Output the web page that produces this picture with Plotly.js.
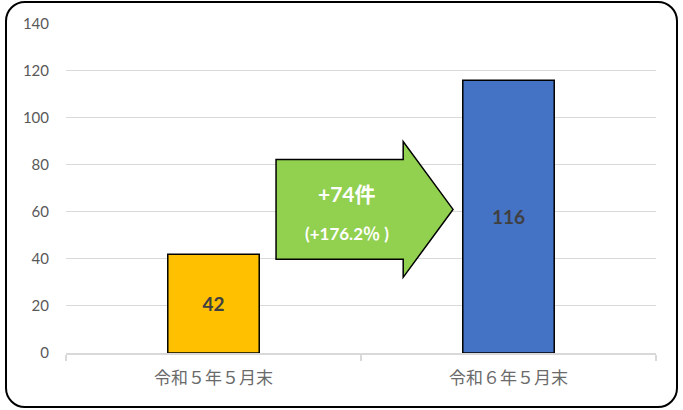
<!DOCTYPE html>
<html><head><meta charset="utf-8">
<script src="https://cdn.plot.ly/plotly-3.0.1.min.js"></script>
<style>
html,body{margin:0;padding:0;background:#fff;}
#wrap{position:absolute;left:0;top:0;width:683px;height:410px;}
#frame{position:absolute;left:5px;top:1px;width:669px;height:403px;border:2.5px solid #000;border-radius:20px;pointer-events:none;}
#chart{position:absolute;left:0;top:0;width:683px;height:410px;}
</style></head>
<body>
<div id="wrap"><div id="chart"></div><div id="frame"></div></div>
<script>
const categories = ["令和５年５月末", "令和６年５月末"];
const values = [42, 116];
const barColors = ["#FFC000", "#4472C4"];
const changeLabel = "+74件";
const changePct = "(+176.2％ )";
const yTicks = [0, 20, 40, 60, 80, 100, 120, 140];

const trace = {
  type: "bar",
  x: categories,
  y: values,
  marker: {color: barColors, line: {color: "#000", width: 1.5}},
  text: values.map(String),
  textposition: "inside",
  insidetextanchor: "middle",
  textfont: {family: "Lato, 'Noto Sans', sans-serif", size: 19, color: "#404040", weight: "bold"},
  hoverinfo: "none"
};

// arrow geometry in data units (category axis index, value axis)
const ax = {x0: 0.212, xh: 0.643, xt: 0.812, yb0: 39.9, yb1: 82.3, yh0: 32.2, yh1: 90, yt: 61.1};
const arrowPath = `M ${ax.x0},${ax.yb0} L ${ax.x0},${ax.yb1} L ${ax.xh},${ax.yb1} L ${ax.xh},${ax.yh1} L ${ax.xt},${ax.yt} L ${ax.xh},${ax.yh0} L ${ax.xh},${ax.yb0} Z`;

const layout = {
  width: 683, height: 410,
  margin: {l: 66, r: 27, t: 23, b: 57},
  paper_bgcolor: "rgba(0,0,0,0)",
  plot_bgcolor: "rgba(0,0,0,0)",
  showlegend: false,
  bargap: 0.69,
  xaxis: {
    type: "category",
    range: [-0.5, 1.5],
    showline: true, linecolor: "#d9d9d9", linewidth: 1.5,
    ticks: "outside", tickson: "boundaries", ticklen: 6, tickcolor: "#d9d9d9", tickwidth: 1.5,
    tickfont: {family: "'Noto Sans CJK JP', sans-serif", size: 17, color: "#6a6a6a"},
    ticklabelstandoff: 9,
    showgrid: false, zeroline: false
  },
  yaxis: {
    range: [0, 140.4],
    tickvals: yTicks,
    showgrid: true, gridcolor: "#d9d9d9", gridwidth: 1,
    zeroline: false, showline: false,
    tickfont: {family: "Lato, 'Noto Sans', sans-serif", size: 15, color: "#595959"},
    ticklabelstandoff: 16
  },
  shapes: [{
    type: "path", xref: "x", yref: "y", path: arrowPath,
    fillcolor: "#92D050", line: {color: "#000", width: 1.5}, layer: "above"
  }],
  annotations: [
    {xref: "x", yref: "y", x: 0.452, y: 67.9, text: "<b>" + changeLabel + "</b>", showarrow: false,
     font: {family: "Lato, 'Noto Sans CJK JP', sans-serif", size: 21, color: "#fff"}},
    {xref: "x", yref: "y", x: 0.452, y: 50.9, text: "<b>" + changePct + "</b>", showarrow: false,
     font: {family: "Lato, 'Noto Sans CJK JP', sans-serif", size: 17, color: "#fff"}}
  ]
};

Plotly.newPlot("chart", [trace], layout, {displayModeBar: false, staticPlot: true});
</script>
</body></html>
